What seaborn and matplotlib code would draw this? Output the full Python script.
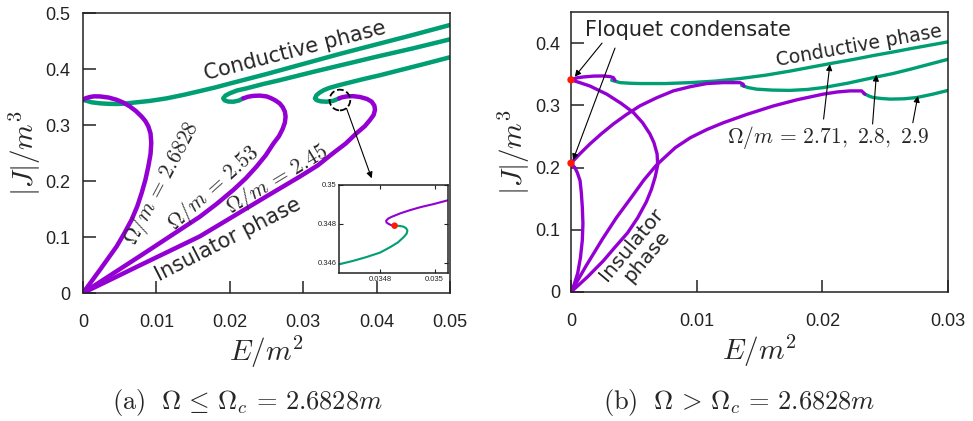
import matplotlib
matplotlib.use("Agg")
import matplotlib.pyplot as plt
import seaborn as sns
from matplotlib.patches import Ellipse

# gnuplot-like colours
PURPLE = "#9400d3"
GREEN = "#009e73"
RED = "#ff1a00"

# -------------------------------
# (a) Omega <= Omega_c  (E/m^2 vs |J|/m^3)
# -------------------------------
# Omega/m = 2.6828
a1_ins_E = [0, 0.00232, 0.00459, 0.0056, 0.00663, 0.0074, 0.00799, 0.0085, 0.0089, 0.0092, 0.0093, 0.0092, 0.0089,
            0.0085, 0.00799, 0.0072, 0.0064, 0.0055, 0.00459, 0.0035, 0.00232, 0.0015, 0.00095, 0.0004, 0.0]
a1_ins_J = [0, 0.0416, 0.0833, 0.106, 0.131, 0.155, 0.1786, 0.202, 0.226, 0.248, 0.268, 0.285, 0.2976,
            0.307, 0.315, 0.325, 0.333, 0.340, 0.345, 0.349, 0.351, 0.3512, 0.350, 0.348, 0.345]
a1_con_E = [0.0, 0.0012, 0.00232, 0.0035, 0.00459, 0.0057, 0.00686, 0.0091, 0.0114, 0.0137, 0.0159, 0.018, 0.02,
            0.025, 0.03, 0.035, 0.04, 0.045, 0.05]
a1_con_J = [0.345, 0.3405, 0.3387, 0.3378, 0.3375, 0.3382, 0.3399, 0.343, 0.3476, 0.3538, 0.3605, 0.367, 0.374,
            0.391, 0.409, 0.427, 0.444, 0.461, 0.4786]

# Omega/m = 2.53
a2_ins_E = [0, 0.008, 0.0159, 0.0182, 0.02048, 0.0222, 0.02366, 0.0249, 0.02593, 0.0267, 0.0272, 0.0275, 0.0276,
            0.0275, 0.0272, 0.0268, 0.0262, 0.0256, 0.02502, 0.0241, 0.0232, 0.0225, 0.02184]
a2_ins_J = [0, 0.068, 0.136, 0.159, 0.184, 0.205, 0.226, 0.246, 0.2667, 0.28, 0.293, 0.304, 0.315,
            0.324, 0.332, 0.3385, 0.344, 0.348, 0.351, 0.3525, 0.352, 0.3505, 0.3476]
a2_con_E = [0.02184, 0.0212, 0.0205, 0.0198, 0.0193, 0.0191, 0.0194, 0.0200, 0.021, 0.0223, 0.0245, 0.0268,
            0.0291, 0.0314, 0.0357, 0.040, 0.045, 0.05]
a2_con_J = [0.3476, 0.3435, 0.3416, 0.3418, 0.344, 0.3476, 0.3525, 0.3566, 0.3617, 0.3655, 0.373, 0.380,
            0.3875, 0.395, 0.4085, 0.422, 0.437, 0.453]

# Omega/m = 2.45
a3_ins_E = [0, 0.008, 0.0159, 0.02048, 0.025, 0.02956, 0.032, 0.0341, 0.0358, 0.03724, 0.0384, 0.0391, 0.0396,
            0.03978, 0.0397, 0.03933, 0.0387, 0.03774, 0.0368, 0.03592, 0.0353, 0.0349]
a3_ins_J = [0, 0.051, 0.101, 0.1369, 0.1726, 0.208, 0.228, 0.25, 0.267, 0.285, 0.298, 0.309, 0.318,
            0.327, 0.3345, 0.3416, 0.3465, 0.35, 0.3515, 0.351, 0.3495, 0.3476]
a3_con_E = [0.0349, 0.0341, 0.0332, 0.0324, 0.0318, 0.0316, 0.0318, 0.0322, 0.0328, 0.0335, 0.0347, 0.0359,
            0.0382, 0.0405, 0.0432, 0.0465, 0.05]
a3_con_J = [0.3476, 0.3432, 0.3416, 0.3422, 0.3445, 0.3476, 0.353, 0.3575, 0.3622, 0.366, 0.3705, 0.3745,
            0.382, 0.389, 0.398, 0.409, 0.421]

# inset: zoom around the junction of Omega/m = 2.45
zoom_con_E = [0.03465, 0.0347, 0.03475, 0.0348, 0.034837, 0.034865, 0.034886, 0.034897, 0.0349, 0.034895,
              0.034886, 0.03487, 0.034853]
zoom_con_J = [0.34593, 0.3461, 0.3463, 0.34653, 0.34681, 0.34705, 0.34732, 0.3475, 0.34766, 0.34778,
              0.34786, 0.3479, 0.34791]
zoom_ins_E = [0.034853, 0.03484, 0.034831, 0.034823, 0.034822, 0.03483, 0.034843, 0.034875, 0.03491, 0.03495,
              0.034996, 0.03505]
zoom_ins_J = [0.34791, 0.34794, 0.3480, 0.34808, 0.34817, 0.34828, 0.34837, 0.34855, 0.34871, 0.34887,
              0.34902, 0.34922]
zoom_dot_E = [0.034853]
zoom_dot_J = [0.34791]

# -------------------------------
# (b) Omega > Omega_c
# -------------------------------
# Omega/m = 2.71
b1_ins_E = [0, 0.0013, 0.00257, 0.0035, 0.0045, 0.0053, 0.006, 0.0064, 0.0067, 0.0069, 0.00685, 0.0066, 0.00628,
            0.0057, 0.00496, 0.004, 0.00284, 0.00151, 0.0007, 0, 0.0005, 0.00098, 0.0018, 0.00257, 0.0031,
            0.00337, 0.0035]
b1_ins_J = [0, 0.024, 0.05, 0.072, 0.095, 0.119, 0.145, 0.165, 0.185, 0.204, 0.222, 0.24, 0.254,
            0.272, 0.2885, 0.303, 0.318, 0.331, 0.3365, 0.341, 0.3443, 0.3456, 0.347, 0.3472, 0.3462,
            0.3445, 0.3403]
b1_con_E = [0.00324, 0.0039, 0.0047, 0.0055, 0.0075, 0.0095, 0.0115, 0.01344, 0.0155, 0.01742, 0.019, 0.0206,
            0.0224, 0.02405, 0.0257, 0.027, 0.0285, 0.03]
b1_con_J = [0.3403, 0.3365, 0.3355, 0.335, 0.335, 0.3365, 0.339, 0.343, 0.3485, 0.355, 0.361, 0.367,
            0.3735, 0.380, 0.386, 0.391, 0.3965, 0.402]

# Omega/m = 2.8
b2_ins_E = [0, 0.00025, 0.00053, 0.00075, 0.0009, 0.00095, 0.0009, 0.00082, 0.00072, 0.0005, 0.0003, 0,
            0.0007, 0.00151, 0.0024, 0.00337, 0.0044, 0.00549, 0.0068, 0.00814, 0.0095, 0.0108, 0.0121,
            0.01344, 0.0137, 0.01376]
b2_ins_J = [0, 0.012, 0.030, 0.055, 0.083, 0.11, 0.1365, 0.16, 0.179, 0.192, 0.2, 0.207,
            0.222, 0.238, 0.254, 0.270, 0.285, 0.2992, 0.312, 0.3232, 0.33, 0.335, 0.3365,
            0.3365, 0.334, 0.331]
b2_con_E = [0.01358, 0.0141, 0.01477, 0.016, 0.01742, 0.0188, 0.02007, 0.022, 0.02405, 0.0256, 0.027, 0.0285, 0.03]
b2_con_J = [0.332, 0.3285, 0.326, 0.3245, 0.324, 0.3255, 0.3285, 0.3355, 0.3445, 0.351, 0.358, 0.366, 0.374]

# Omega/m = 2.9
b3_ins_E = [0, 0.0012, 0.0025, 0.0036, 0.0048, 0.0058, 0.0068, 0.0083, 0.0095, 0.0108, 0.01212, 0.014, 0.0161,
            0.018, 0.02007, 0.0212, 0.0222, 0.02312, 0.02339]
b3_ins_J = [0, 0.042, 0.085, 0.119, 0.152, 0.18, 0.204, 0.232, 0.248, 0.261, 0.272, 0.2855, 0.299,
            0.309, 0.318, 0.3215, 0.3232, 0.3232, 0.318]
b3_con_E = [0.0233, 0.0237, 0.02405, 0.0247, 0.02538, 0.0265, 0.0275, 0.0288, 0.03]
b3_con_J = [0.319, 0.315, 0.3125, 0.311, 0.310, 0.3105, 0.3125, 0.318, 0.324]

# Floquet condensate points
b_dot_E = [0, 0]
b_dot_J = [0.341, 0.207]

a_xticks = [0, 0.01, 0.02, 0.03, 0.04, 0.05]
a_xlabels = ["0", "0.01", "0.02", "0.03", "0.04", "0.05"]
a_yticks = [0, 0.1, 0.2, 0.3, 0.4, 0.5]
a_ylabels = ["0", "0.1", "0.2", "0.3", "0.4", "0.5"]
b_xticks = [0, 0.01, 0.02, 0.03]
b_xlabels = ["0", "0.01", "0.02", "0.03"]
b_yticks = [0, 0.1, 0.2, 0.3, 0.4]
b_ylabels = ["0", "0.1", "0.2", "0.3", "0.4"]
zoom_xticks = [0.0348, 0.035]
zoom_xlabels = ["0.0348", "0.035"]
zoom_yticks = [0.346, 0.348, 0.35]
zoom_ylabels = ["0.346", "0.348", "0.35"]

# -------------------------------
# style
# -------------------------------
sns.set_theme(style="ticks")
plt.rcParams.update({
    "font.family": ["DejaVu Sans"],
    "mathtext.fontset": "cm",
    "axes.linewidth": 1.1,
    "axes.edgecolor": "#222222",
    "xtick.direction": "in",
    "ytick.direction": "in",
    "xtick.major.size": 9,
    "ytick.major.size": 9,
    "xtick.major.width": 1.1,
    "ytick.major.width": 1.1,
    "xtick.color": "#222222",
    "ytick.color": "#222222",
})
TICKFONT = "Liberation Sans"


def curve(ax, E, J, color, lw):
    sns.lineplot(x=E, y=J, ax=ax, sort=False, estimator=None, color=color,
                 linewidth=lw, solid_capstyle="round", solid_joinstyle="round")


def arrow(ax, start, end):
    ax.annotate("", xy=end, xytext=start,
                arrowprops=dict(arrowstyle="-|>", color="black", lw=0.8,
                                mutation_scale=9, shrinkA=0, shrinkB=0))


fig = plt.figure(figsize=(9.73, 4.21), dpi=100)
ax1 = fig.add_axes([83 / 973, 128 / 421, 367 / 973, 280 / 421])
ax2 = fig.add_axes([571 / 973, 129 / 421, 377 / 973, 280 / 421])

# ---- panel (a) ----
for E, J in [(a1_con_E, a1_con_J), (a2_con_E, a2_con_J), (a3_con_E, a3_con_J)]:
    curve(ax1, E, J, GREEN, 3.2)
for E, J in [(a1_ins_E, a1_ins_J), (a2_ins_E, a2_ins_J), (a3_ins_E, a3_ins_J)]:
    curve(ax1, E, J, PURPLE, 3.2)

ax1.set_xlim(0, 0.05)
ax1.set_ylim(0, 0.5)
ax1.set_xticks(a_xticks, a_xlabels, fontfamily=TICKFONT)
ax1.set_yticks(a_yticks, a_ylabels, fontfamily=TICKFONT)
ax1.tick_params(axis="x", labelsize=13, pad=15)
ax1.tick_params(axis="y", labelsize=13, pad=9)
ax1.set_xlabel(r"$E/m^2$", fontsize=21, labelpad=2)
ax1.set_ylabel(r"$|J|/m^3$", fontsize=21, labelpad=2)

ax1.text(0.0289, 0.433, "Conductive phase", fontsize=15, rotation=14.5,
         ha="center", va="center", rotation_mode="anchor")
ax1.text(0.0198, 0.0946, "Insulator phase", fontsize=15, rotation=27,
         ha="center", va="center", rotation_mode="anchor")
ax1.text(0.0108, 0.196, r"$\Omega/m\,=\,2.6828$", fontsize=15.5, rotation=62,
         ha="center", va="center", rotation_mode="anchor")
ax1.text(0.0178, 0.187, r"$\Omega/m\,=\,2.53$", fontsize=15.5, rotation=42,
         ha="center", va="center", rotation_mode="anchor")
ax1.text(0.0265, 0.203, r"$\Omega/m\,=\,2.45$", fontsize=15.5, rotation=31,
         ha="center", va="center", rotation_mode="anchor")

ax1.add_patch(Ellipse((0.035, 0.3446), 20.7 / 7340, 20.7 / 560, fill=False,
                      ls="--", lw=1.3, ec="black", zorder=6))
arrow(ax1, (0.0359, 0.3298), (0.03933, 0.2048))

# inset
axz = fig.add_axes([339.3 / 973, 148 / 421, 109 / 973, 88 / 421])
curve(axz, zoom_con_E, zoom_con_J, GREEN, 1.5)
curve(axz, zoom_ins_E, zoom_ins_J, PURPLE, 1.5)
sns.scatterplot(x=zoom_dot_E, y=zoom_dot_J, ax=axz, color=RED, s=22,
                edgecolor="none", zorder=5)
axz.set_xlim(0.03465, 0.03505)
axz.set_ylim(0.34548, 0.35)
axz.set_xticks(zoom_xticks, zoom_xlabels, fontfamily=TICKFONT)
axz.set_yticks(zoom_yticks, zoom_ylabels, fontfamily=TICKFONT)
axz.tick_params(top=True, right=True, length=3, width=0.8, labelsize=5.5, pad=2)
axz.set_xlabel("")
axz.set_ylabel("")

# ---- panel (b) ----
for E, J in [(b1_con_E, b1_con_J), (b2_con_E, b2_con_J), (b3_con_E, b3_con_J)]:
    curve(ax2, E, J, GREEN, 2.4)
for E, J in [(b1_ins_E, b1_ins_J), (b2_ins_E, b2_ins_J), (b3_ins_E, b3_ins_J)]:
    curve(ax2, E, J, PURPLE, 2.4)
sns.scatterplot(x=b_dot_E, y=b_dot_J, ax=ax2, color=RED, s=28,
                edgecolor="none", zorder=5, clip_on=False)

ax2.set_xlim(0, 0.03)
ax2.set_ylim(0, 0.45)
ax2.set_xticks(b_xticks, b_xlabels, fontfamily=TICKFONT)
ax2.set_yticks(b_yticks, b_ylabels, fontfamily=TICKFONT)
ax2.tick_params(axis="x", labelsize=13, pad=15)
ax2.tick_params(axis="y", labelsize=13, pad=8)
ax2.set_xlabel(r"$E/m^2$", fontsize=21, labelpad=2)
ax2.set_ylabel(r"$|J|/m^3$", fontsize=21, labelpad=2)

ax2.text(0.00927, 0.4208, "Floquet condensate", fontsize=15,
         ha="center", va="center")
arrow(ax2, (0.00247, 0.400), (0.0003, 0.346))
arrow(ax2, (0.0035, 0.392), (0.00016, 0.212))
ax2.text(0.0229, 0.395, "Conductive phase", fontsize=13.5, rotation=10.1,
         ha="center", va="center", rotation_mode="anchor")
ax2.text(0.02047, 0.2485, r"$\Omega/m\,=\,2.71,\ 2.8,\ 2.9$", fontsize=15.5,
         ha="center", va="center")
arrow(ax2, (0.0201, 0.278), (0.0206, 0.366))
arrow(ax2, (0.0240, 0.270), (0.0243, 0.349))
arrow(ax2, (0.0272, 0.272), (0.0276, 0.315))
ax2.text(0.0054, 0.0672, "Insulator\nphase", fontsize=14.5, rotation=50,
         ha="center", va="center", rotation_mode="anchor", linespacing=1.0)

# captions
fig.text(0.2544, 0.043, r"$\mathrm{(a)}\ \ \Omega\,\leq\,\Omega_c\,=\,2.6828m$",
         fontsize=19, ha="center", va="center")
fig.text(0.7595, 0.043, r"$\mathrm{(b)}\ \ \Omega\,>\,\Omega_c\,=\,2.6828m$",
         fontsize=19, ha="center", va="center")

fig.savefig("out.png", dpi=100)
